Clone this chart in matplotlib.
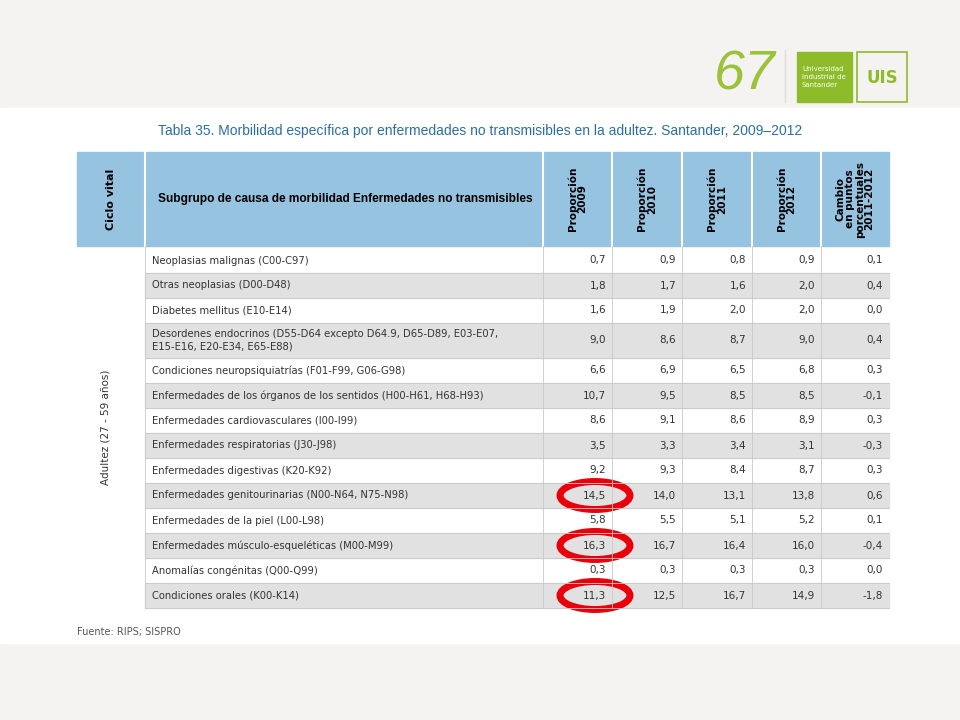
import matplotlib.pyplot as plt
from matplotlib.patches import Rectangle, Ellipse

causas = [
    "Neoplasias malignas (C00-C97)",
    "Otras neoplasias (D00-D48)",
    "Diabetes mellitus (E10-E14)",
    "Desordenes endocrinos (D55-D64 excepto D64.9, D65-D89, E03-E07,\nE15-E16, E20-E34, E65-E88)",
    "Condiciones neuropsiquiatrías (F01-F99, G06-G98)",
    "Enfermedades de los órganos de los sentidos (H00-H61, H68-H93)",
    "Enfermedades cardiovasculares (I00-I99)",
    "Enfermedades respiratorias (J30-J98)",
    "Enfermedades digestivas (K20-K92)",
    "Enfermedades genitourinarias (N00-N64, N75-N98)",
    "Enfermedades de la piel (L00-L98)",
    "Enfermedades músculo-esqueléticas (M00-M99)",
    "Anomalías congénitas (Q00-Q99)",
    "Condiciones orales (K00-K14)",
]
p2009 = ["0,7", "1,8", "1,6", "9,0", "6,6", "10,7", "8,6", "3,5", "9,2", "14,5", "5,8", "16,3", "0,3", "11,3"]
p2010 = ["0,9", "1,7", "1,9", "8,6", "6,9", "9,5", "9,1", "3,3", "9,3", "14,0", "5,5", "16,7", "0,3", "12,5"]
p2011 = ["0,8", "1,6", "2,0", "8,7", "6,5", "8,5", "8,6", "3,4", "8,4", "13,1", "5,1", "16,4", "0,3", "16,7"]
p2012 = ["0,9", "2,0", "2,0", "9,0", "6,8", "8,5", "8,9", "3,1", "8,7", "13,8", "5,2", "16,0", "0,3", "14,9"]
cambio = ["0,1", "0,4", "0,0", "0,4", "0,3", "-0,1", "0,3", "-0,3", "0,3", "0,6", "0,1", "-0,4", "0,0", "-1,8"]
marcados = [9, 11, 13]  # filas con círculo rojo (2009)

encabezados = ["Proporción\n2009", "Proporción\n2010", "Proporción\n2011",
               "Proporción\n2012", "Cambio\nen puntos\nporcentuales\n2011-2012"]

fig = plt.figure(figsize=(9.6, 7.2), dpi=100)
ax = fig.add_axes([0, 0, 1, 1])
ax.set_xlim(0, 960)
ax.set_ylim(720, 0)
ax.axis("off")

# fondo
ax.add_patch(Rectangle((0, 0), 960, 720, color="#f4f3f1"))
ax.add_patch(Rectangle((0, 108), 960, 535, color="white"))

# logo
ax.text(745, 75, "67", fontsize=40, color="#9cc23a", ha="center", va="center",
        style="italic", family="Liberation Sans")
ax.plot([785, 785], [50, 102], color="#dddddd", lw=1)
ax.add_patch(Rectangle((797, 52), 55, 50, color="#8dbb2a"))
ax.text(802, 77, "Universidad\nIndustrial de\nSantander", fontsize=5, color="white",
        va="center", linespacing=1.4)
ax.add_patch(Rectangle((857, 52), 50, 50, fill=False, ec="#8dbb2a", lw=1.2))
ax.text(882, 78, "UIS", fontsize=12, color="#8dbb2a", ha="center", va="center", weight="bold")

ax.text(480, 131, "Tabla 35. Morbilidad específica por enfermedades no transmisibles en la adultez. Santander, 2009\u20132012",
        fontsize=10, color="#2b6ea6", ha="center", va="center", family="Liberation Sans")

cols = [77, 145, 543, 612, 682, 752, 821, 889]
top, hdr = 152, 246
# encabezado
ax.add_patch(Rectangle((cols[0], top), cols[-1] - cols[0], hdr - top, color="#95c3e0"))
for x in cols[1:-1]:
    ax.plot([x, x], [top, hdr], color="white", lw=1.5)
ax.text((cols[0] + cols[1]) / 2, (top + hdr) / 2, "Ciclo vital", rotation=90, fontsize=8,
        weight="bold", ha="center", va="center")
ax.text(158, (top + hdr) / 2, "Subgrupo de causa de morbilidad Enfermedades no transmisibles",
        fontsize=8.6, weight="bold", va="center", family="Liberation Sans")
for i, h in enumerate(encabezados):
    ax.text((cols[i + 2] + cols[i + 3]) / 2, (top + hdr) / 2, h, rotation=90, fontsize=7.5,
            weight="bold", ha="center", va="center", linespacing=0.95)

# filas
alturas = [25] * len(causas)
alturas[3] = 35
y = hdr + 2
centros = []
for i, h in enumerate(alturas):
    if i % 2 == 1:
        ax.add_patch(Rectangle((cols[1], y), cols[-1] - cols[1], h, color="#e1e1e2"))
    ax.plot([cols[1], cols[-1]], [y + h, y + h], color="#c8c8c8", lw=0.6)
    centros.append(y + h / 2)
    y += h
fondo = y
for x in cols[1:-1]:
    ax.plot([x, x], [hdr, fondo], color="#c8c8c8", lw=0.6)

for i, c in enumerate(centros):
    ax.text(152, c, causas[i], fontsize=7.2, va="center", color="#333333", linespacing=1.3)
    for j, serie in enumerate([p2009, p2010, p2011, p2012, cambio]):
        ax.text(cols[j + 3] - 6, c, serie[i], fontsize=7.5, va="center", ha="right", color="#333333")

ax.text((cols[0] + cols[1]) / 2 - 5, (hdr + fondo) / 2, "Adultez (27 - 59 años)", rotation=90,
        fontsize=7.5, ha="center", va="center", color="#333333")

for i in marcados:
    ax.add_patch(Ellipse((595, centros[i]), 70, 28, fill=False, ec="#e8000b", lw=5))

ax.text(77, 632, "Fuente: RIPS; SISPRO", fontsize=7, color="#555555", va="center")

fig.savefig("out.png", dpi=100)
